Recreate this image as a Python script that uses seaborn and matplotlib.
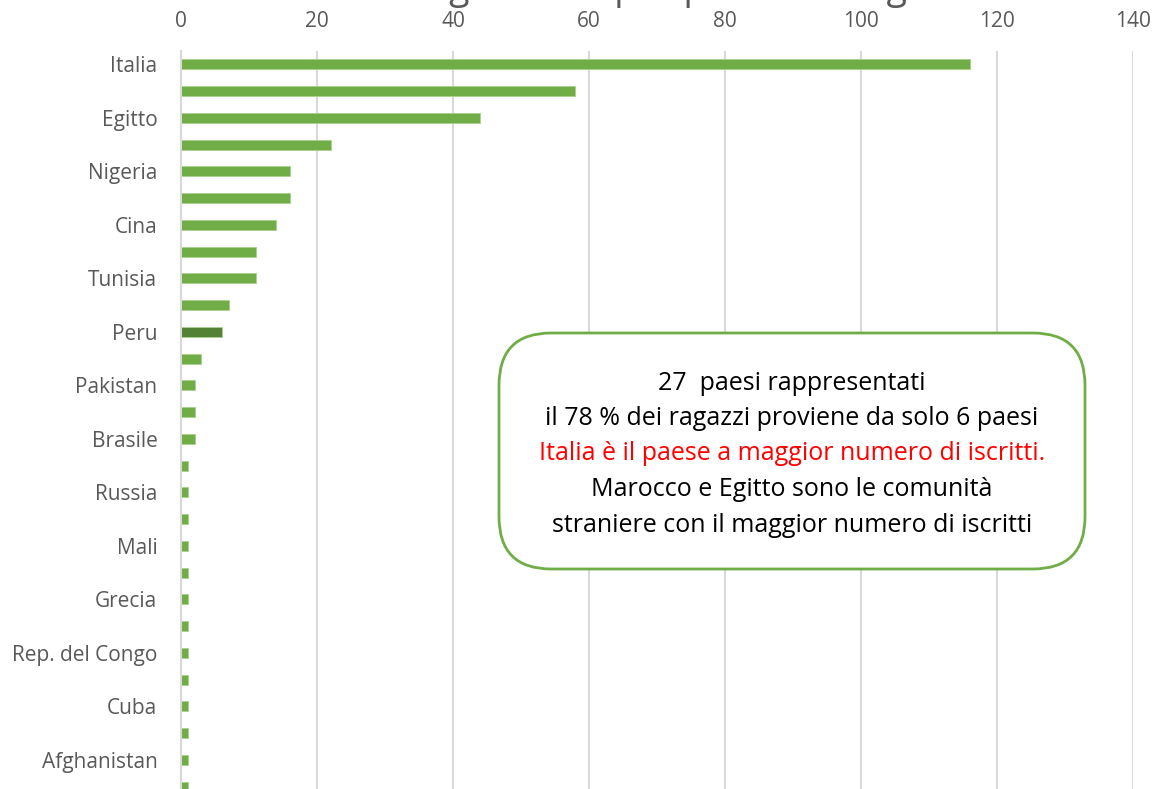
import matplotlib
matplotlib.use("Agg")
import matplotlib.pyplot as plt
from matplotlib.patches import FancyBboxPatch
import seaborn as sns
import pandas as pd

# ---- data ----
countries = ["Italia", "Marocco", "Egitto", "Albania", "Nigeria", "Romania", "Cina",
             "Senegal", "Tunisia", "Ecuador", "Peru", "Bangladesh", "Pakistan", "Filippine",
             "Brasile", "Ucraina", "Russia", "Moldavia", "Mali", "Ghana", "Grecia",
             "Colombia", "Rep. del Congo", "Eritrea", "Cuba", "Sri Lanka", "Afghanistan",
             "Costa d'Avorio"]
values = [116, 58, 44, 22, 16, 16, 14, 11, 11, 7, 6, 3, 2, 2, 2,
          1, 1, 1, 1, 1, 1, 1, 1, 1, 1, 1, 1, 1]
x_ticks = [0, 20, 40, 60, 80, 100, 120, 140]
highlight = "Peru"
title = "Distribuzione degli iscritti per paese di origine"
note_lines = ["27  paesi rappresentati",
              "il 78 % dei ragazzi proviene da solo 6 paesi",
              "Italia è il paese a maggior numero di iscritti.",
              "Marocco e Egitto sono le comunità",
              "straniere con il maggior numero di iscritti"]
note_colors = ["black", "black", "#FF0000", "black", "black"]

GREEN = "#70AD47"
DARK = "#548235"
GRID = "#D9D9D9"
TXT = "#595959"

sns.set_style("white")
plt.rcParams["font.family"] = ["Open Sans", "DejaVu Sans"]

df = pd.DataFrame({"country": countries, "value": values})
palette = {c: (DARK if c == highlight else GREEN) for c in countries}

W, H = 1161, 789
fig = plt.figure(figsize=(W / 100, H / 100), dpi=100)
ax = fig.add_axes([181 / W, 1 - 51 / H - 749 / H, (1133 - 181) / W, 749 / H])

sns.barplot(data=df, y="country", x="value", hue="country", palette=palette,
            orient="h", width=0.37, legend=False, ax=ax, saturation=1,
            edgecolor="#A9D18E", linewidth=0.6)

ax.set_xlim(0, 140)
ax.set_xticks(x_ticks)
ax.xaxis.tick_top()
ax.set_xlabel("")
ax.set_ylabel("")
ax.grid(axis="x", color=GRID, linewidth=1.5)
ax.set_axisbelow(True)
for s in ["top", "right", "bottom"]:
    ax.spines[s].set_visible(False)
ax.spines["left"].set_color(GRID)
ax.spines["left"].set_linewidth(1.5)

ax.set_yticks(range(len(countries)))
ax.set_yticklabels([c if i % 2 == 0 else "" for i, c in enumerate(countries)])
ax.tick_params(axis="y", length=0, pad=17, labelsize=15, labelcolor=TXT)
ax.tick_params(axis="x", length=0, pad=14, labelsize=15, labelcolor=TXT)

# title (cut off at the top edge, as in the original)
fig.text(562 / W, 1 + 1.5 / H, title, ha="center", va="baseline", fontsize=27, color=TXT)

# annotation box
bx0, by0, bx1, by1 = 499, 333, 1085, 569
box = FancyBboxPatch((bx0 / W, 1 - by1 / H), (bx1 - bx0) / W, (by1 - by0) / H,
                     boxstyle="round,pad=0,rounding_size=0.045",
                     transform=fig.transFigure, facecolor="white",
                     edgecolor=GREEN, linewidth=2, mutation_aspect=W / H)
fig.patches.append(box)
ys = [383, 418.5, 454, 489.5, 525]
for line, col, y in zip(note_lines, note_colors, ys):
    fig.text(792 / W, 1 - y / H, line, ha="center", va="center", fontsize=18, color=col)

fig.savefig("out.png", dpi=100)
